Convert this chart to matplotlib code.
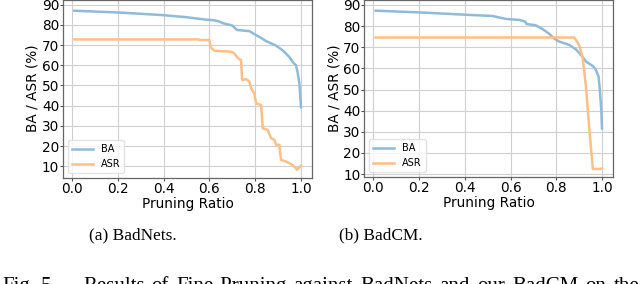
import matplotlib
matplotlib.use("Agg")
import matplotlib.pyplot as plt

# ---- data ----
badnets_ba_x = [0.01, 0.1, 0.21, 0.3, 0.4, 0.5, 0.585, 0.62, 0.64, 0.66, 0.70, 0.72, 0.775, 0.80,
                0.825, 0.847, 0.89, 0.92, 0.95, 0.964, 0.978, 0.985, 0.993, 0.997, 1.0]
badnets_ba_y = [87.0, 86.6, 86.1, 85.5, 84.8, 83.8, 82.6, 82.3, 81.8, 80.8, 79.7, 77.5, 76.9, 75.2,
                73.6, 72.0, 69.8, 67.4, 64.0, 61.6, 60.0, 56.7, 51.0, 44.4, 39.2]

badnets_asr_x = [0.01, 0.55, 0.56, 0.60, 0.605, 0.622, 0.695, 0.709, 0.724, 0.738, 0.743, 0.76,
                 0.775, 0.782, 0.796, 0.804, 0.826, 0.833, 0.854, 0.869, 0.884, 0.891, 0.905,
                 0.913, 0.935, 0.956, 0.978, 0.982, 1.0]
badnets_asr_y = [72.8, 72.8, 72.5, 72.5, 69.0, 67.2, 66.7, 65.9, 63.5, 62.6, 52.7, 53.1,
                 51.9, 48.6, 46.1, 41.2, 40.3, 28.8, 28.0, 23.9, 23.0, 20.6, 20.6,
                 13.1, 12.3, 11.1, 9.0, 8.2, 10.2]

badcm_ba_x = [0.01, 0.2, 0.347, 0.42, 0.52, 0.58, 0.64, 0.665, 0.67, 0.71, 0.74, 0.77, 0.79, 0.81,
              0.857, 0.886, 0.915, 0.93, 0.96, 0.974, 0.985, 0.99, 0.997, 1.0]
badcm_ba_y = [87.3, 86.5, 85.7, 85.3, 84.8, 83.4, 82.9, 82.1, 81.0, 80.4, 78.6, 76.3, 74.2, 72.8,
              71.1, 69.0, 65.5, 63.2, 61.1, 59.2, 56.1, 50.6, 40.3, 31.6]

badcm_asr_x = [0.01, 0.879, 0.90, 0.915, 0.93, 0.945, 0.96, 0.995, 1.0]
badcm_asr_y = [74.6, 74.6, 71.0, 65.5, 51.3, 30.8, 12.4, 12.4, 12.7]

xticks = [0.0, 0.2, 0.4, 0.6, 0.8, 1.0]
yticks = [10, 20, 30, 40, 50, 60, 70, 80, 90]
captions = ["(a) BadNets.", "(b) BadCM."]
fig_caption_head = ["Fig.", "5."]
fig_caption_body = "Results of Fine-Pruning against BadNets and our BadCM on the"

plt.rcParams['font.family'] = ['DejaVu Sans']
FS = 9.8
BA_COLOR = '#8fbbd9'
ASR_COLOR = '#ffbf86'
SERIF = 'Liberation Serif'
CAP_FS = 12.4
FIGCAP_FS = 15

W, H = 640, 284
fig = plt.figure(figsize=(W / 100, H / 100), dpi=100)

def px_axes(x0, x1, ybot, ytop):
    return [x0 / W, 1 - ybot / H, (x1 - x0) / W, (ybot - ytop) / H]

panels = [
    (px_axes(63, 312.3, 177.7, -0.35), badnets_ba_x, badnets_ba_y, badnets_asr_x, badnets_asr_y, (4.3, 92.5)),
    (px_axes(364.3, 613.3, 177.0, -0.3), badcm_ba_x, badcm_ba_y, badcm_asr_x, badcm_asr_y, (8.6, 92.5)),
]

for pos, bx, by, ax_, ay, ylim in panels:
    ax = fig.add_axes(pos)
    ax.plot(bx, by, color=BA_COLOR, lw=1.8, label='BA')
    ax.plot(ax_, ay, color=ASR_COLOR, lw=1.8, label='ASR')
    ax.set_xlim(-0.0395, 1.0495)
    ax.set_ylim(*ylim)
    ax.set_xticks(xticks)
    ax.set_xticklabels([f"{t:.1f}" for t in xticks])
    ax.set_yticks(yticks)
    ax.tick_params(axis='x', labelsize=FS, length=2, width=0.8, color='#555555', pad=1.2)
    ax.tick_params(axis='y', labelsize=FS, length=2, width=0.8, color='#555555', pad=0.7)
    ax.grid(True, color='#d0d0d0', lw=0.8)
    ax.set_axisbelow(True)
    for s in ax.spines.values():
        s.set_color('#666666')
        s.set_linewidth(0.9)
    ax.set_xlabel('Pruning Ratio', fontsize=FS, labelpad=0.5)
    ax.set_ylabel('BA / ASR (%)', fontsize=FS, labelpad=1.5)
    leg = ax.legend(loc='lower left', fontsize=7, handlelength=2.2, frameon=True,
                    fancybox=True, framealpha=0.8)
    leg.get_frame().set_edgecolor('#dddddd')

fig.text(133 / W, 1 - 235 / H, captions[0], family=SERIF, fontsize=CAP_FS,
         ha='center', va='center')
fig.text(381 / W, 1 - 235 / H, captions[1], family=SERIF, fontsize=CAP_FS,
         ha='center', va='center')

# bottom caption line (cut by the figure edge as in the reference), justified
ybase = 1 - 291 / H
fig.text(2 / W, ybase, fig_caption_head[0], family=SERIF, fontsize=FIGCAP_FS, ha='left', va='baseline')
fig.text(41 / W, ybase, fig_caption_head[1], family=SERIF, fontsize=FIGCAP_FS, ha='left', va='baseline')

words = fig_caption_body.split(' ')
renderer = fig.canvas.get_renderer()
arts = [fig.text(0, ybase, w, family=SERIF, fontsize=FIGCAP_FS, ha='left', va='baseline') for w in words]
widths = [a.get_window_extent(renderer).width for a in arts]
x_start, x_end = 83.0, 639.0
gap = (x_end - x_start - sum(widths)) / (len(words) - 1)
x = x_start
for a, wd in zip(arts, widths):
    a.set_x(x / W)
    x += wd + gap

fig.savefig('out.png', dpi=100)
